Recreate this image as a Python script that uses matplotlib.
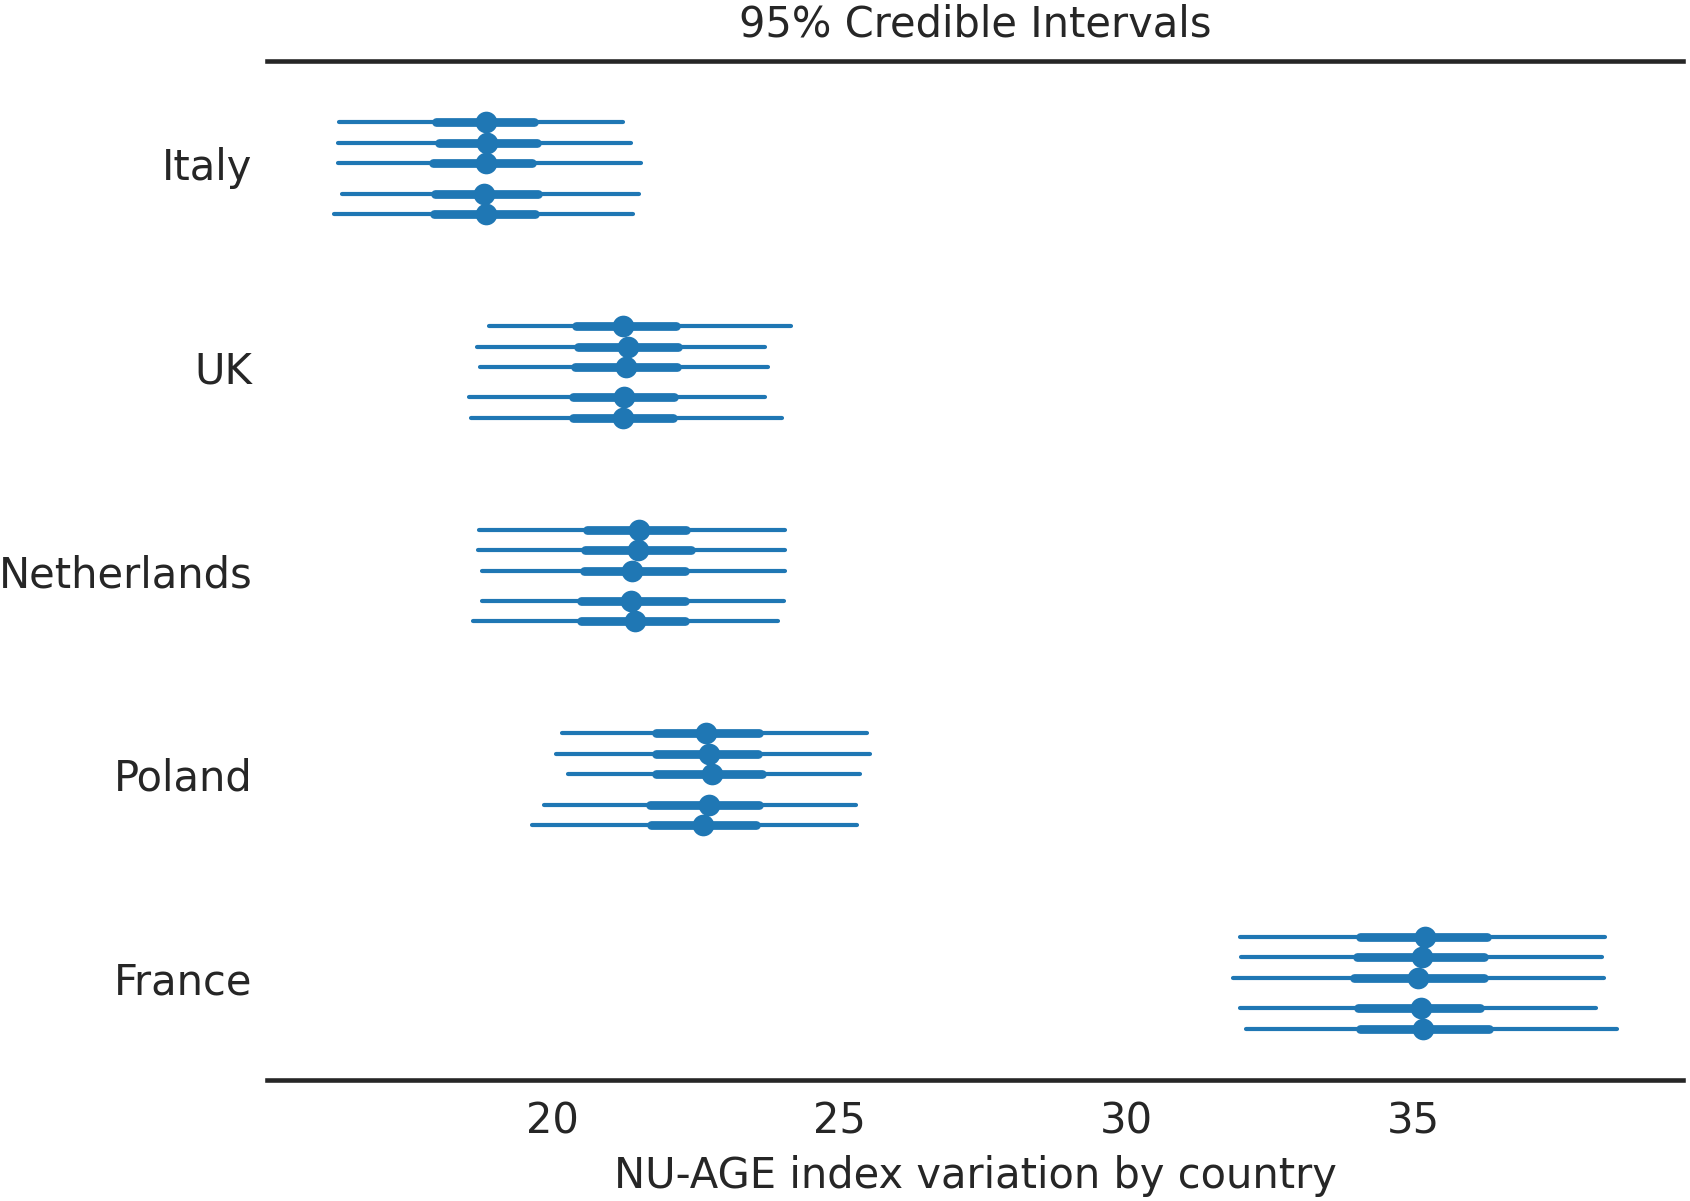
import numpy as np
import matplotlib
matplotlib.use('Agg')
import matplotlib.pyplot as plt

# 5 chains per country: median, 50% interval, 95% interval
countries = ['Italy', 'UK', 'Netherlands', 'Poland', 'France']
chain_offsets = [-0.2, -0.1, 0.0, 0.15, 0.25]

medians = [
    [18.84, 18.86, 18.84, 18.82, 18.84],
    [21.24, 21.33, 21.29, 21.26, 21.24],
    [21.51, 21.49, 21.39, 21.38, 21.44],
    [22.68, 22.74, 22.79, 22.74, 22.63],
    [35.21, 35.15, 35.08, 35.14, 35.18],
]
q25 = [
    [17.98, 18.03, 17.92, 17.96, 17.94],
    [20.42, 20.45, 20.39, 20.36, 20.36],
    [20.61, 20.58, 20.55, 20.51, 20.51],
    [21.81, 21.81, 21.81, 21.71, 21.73],
    [34.08, 34.02, 33.98, 34.04, 34.08],
]
q75 = [
    [19.69, 19.73, 19.65, 19.76, 19.70],
    [22.15, 22.20, 22.17, 22.13, 22.10],
    [22.34, 22.42, 22.32, 22.32, 22.32],
    [23.61, 23.58, 23.66, 23.61, 23.55],
    [36.29, 36.24, 36.23, 36.16, 36.33],
]
lo95 = [
    [16.28, 16.27, 16.27, 16.34, 16.20],
    [18.90, 18.69, 18.75, 18.55, 18.58],
    [18.73, 18.70, 18.77, 18.77, 18.62],
    [20.17, 20.07, 20.28, 19.86, 19.65],
    [31.98, 32.01, 31.87, 31.98, 32.09],
]
hi95 = [
    [21.24, 21.38, 21.55, 21.51, 21.40],
    [24.16, 23.70, 23.76, 23.70, 24.00],
    [24.06, 24.06, 24.06, 24.04, 23.94],
    [25.48, 25.53, 25.36, 25.29, 25.31],
    [38.35, 38.29, 38.33, 38.19, 38.56],
]

DARK = '#262626'
COLOR = '#1f77b4'

plt.rcParams['font.family'] = 'DejaVu Sans'
plt.rcParams['font.size'] = 10

fig = plt.figure(figsize=(1690 / 300, 1201 / 300), dpi=300)
ax = fig.add_axes([0.1578, 0.101, 0.996 - 0.1578, 0.9489 - 0.101])

for i, name in enumerate(countries):
    for j, off in enumerate(chain_offsets):
        y = i + off
        ax.plot([lo95[i][j], hi95[i][j]], [y, y], color=COLOR, lw=1.0,
                solid_capstyle='round')
        ax.plot([q25[i][j], q75[i][j]], [y, y], color=COLOR, lw=2.1,
                solid_capstyle='round')
        ax.plot(medians[i][j], y, 'o', color=COLOR, markersize=5.2,
                markeredgewidth=0)

ax.set_xlim(15.025, 39.71)
ax.set_ylim(4.5, -0.5)
ax.set_yticks(range(len(countries)))
ax.set_yticklabels(countries)
ax.set_xticks([20, 25, 30, 35])

for side in ['left', 'right']:
    ax.spines[side].set_visible(False)
for side in ['top', 'bottom']:
    ax.spines[side].set_linewidth(1.1)
    ax.spines[side].set_color(DARK)

ax.tick_params(axis='both', length=0, colors=DARK, labelsize=10)
ax.tick_params(axis='x', pad=5)
ax.tick_params(axis='y', pad=3.4)

ax.set_title("95% Credible Intervals", color=DARK, fontsize=10, pad=6)
ax.set_xlabel("NU-AGE index variation by country", color=DARK, fontsize=10,
              labelpad=3)

fig.savefig('out.png', dpi=300)
